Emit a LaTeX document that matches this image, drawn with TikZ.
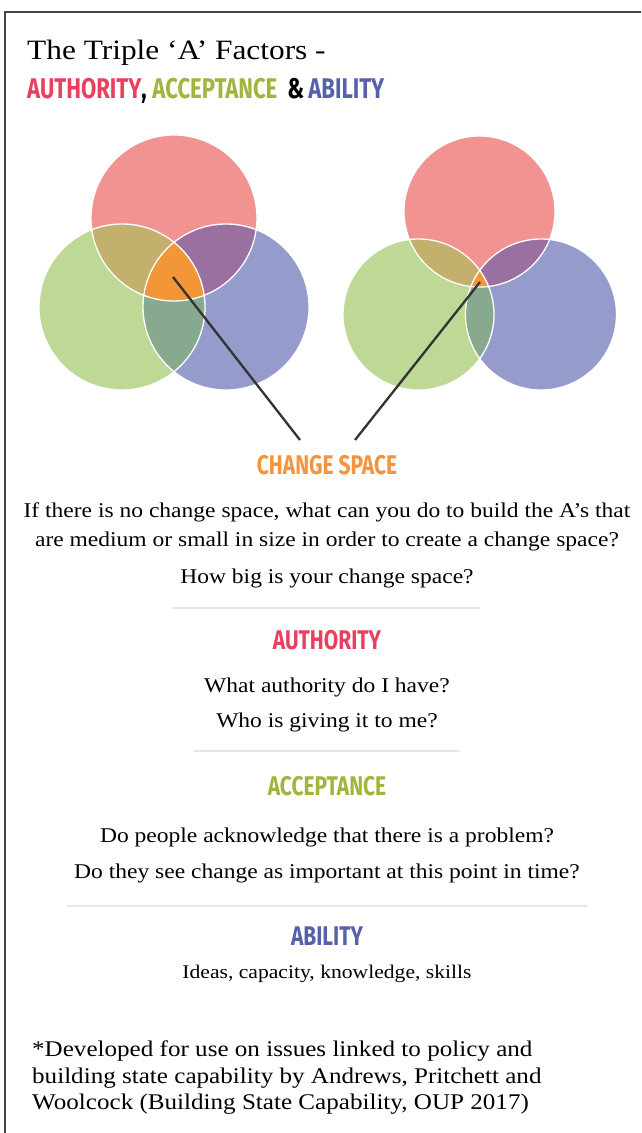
\documentclass[tikz,border=0pt]{standalone}
\usepackage{fontspec}
\setmainfont{Liberation Serif}[FakeStretch=1.12]
\newfontfamily\hfont{Fira Sans}[FakeStretch=0.775]
\definecolor{cred}{HTML}{F19391}
\definecolor{cgreen}{HTML}{BED895}
\definecolor{cblue}{HTML}{959BCB}
\definecolor{crg}{HTML}{C3B06C}
\definecolor{crb}{HTML}{9A70A0}
\definecolor{cgb}{HTML}{87AA8E}
\definecolor{crgb}{HTML}{F39637}
\definecolor{tred}{HTML}{E8405E}
\definecolor{tgreen}{HTML}{A2B43C}
\definecolor{tblue}{HTML}{5661AA}
\definecolor{torange}{HTML}{F7943B}
\definecolor{rulegray}{HTML}{E6E6E6}
\definecolor{framegray}{HTML}{444444}
\newcommand\drawvenn[4]{%
 \fill[cred] (#1) circle (#4);
 \fill[cgreen] (#2) circle (#4);
 \fill[cblue] (#3) circle (#4);
 \begin{scope}\clip (#1) circle (#4); \fill[crg] (#2) circle (#4); \end{scope}
 \begin{scope}\clip (#1) circle (#4); \fill[crb] (#3) circle (#4); \end{scope}
 \begin{scope}\clip (#2) circle (#4); \fill[cgb] (#3) circle (#4); \end{scope}
 \begin{scope}\clip (#1) circle (#4); \clip (#2) circle (#4); \fill[crgb] (#3) circle (#4); \end{scope}
 \draw[vennedge] (#1) circle (#4) (#2) circle (#4) (#3) circle (#4);
}
\begin{document}
\begin{tikzpicture}[x=1pt,y=-1pt,
  vennedge/.style={white, line width=1.3pt},
  body/.style={font=\fontsize{21}{25}\selectfont, anchor=base, inner sep=0pt},
  hd/.style={font=\hfont\bfseries\fontsize{27}{30}\selectfont, anchor=base, inner sep=0pt},
  sep/.style={rulegray, line width=2.5pt},
  pointer/.style={draw=black!80, line width=2.3pt}]
\useasboundingbox (0,0) rectangle (641,1133);
\fill[white] (0,0) rectangle (641,1133);
% frame
\draw[framegray, line width=2pt] (5,1133) -- (5,12) -- (641,12);
% title
\node[anchor=base west, inner sep=0pt, font=\fontsize{28}{32}\selectfont] (title1) at (27,59) {The Triple ‘A’ Factors -};
\node[anchor=base west, inner sep=0pt, font=\hfont\bfseries\fontsize{28.5}{32}\selectfont] (title2) at (27,98)
 {{\color{tred}AUTHORITY},\hspace{0.2em}{\color{tgreen}ACCEPTANCE}\hspace{0.35em}\&\hspace{0.15em}{\color{tblue}ABILITY}};
% venns
\coordinate (LR) at (174,218); \coordinate (LG) at (122,307); \coordinate (LB) at (226,307);
\coordinate (RR) at (479.5,211.5); \coordinate (RG) at (418.5,314.5); \coordinate (RB) at (541,314.5);
\drawvenn{LR}{LG}{LB}{83}
\drawvenn{RR}{RG}{RB}{75.5}
\coordinate (lstart) at (173,277); \coordinate (lend) at (300,440);
\coordinate (rstart) at (480,282); \coordinate (rend) at (355,440);
\draw[pointer] (lstart) -- (lend);
\draw[pointer] (rstart) -- (rend);
% change space
\node[hd, torange] (cs) at (327,474) {CHANGE SPACE};
\node[body] (cs1) at (327,517) {If there is no change space, what can you do to build the A’s that};
\node[body] (cs2) at (327,546) {are medium or small in size in order to create a change space?};
\node[body] (cs3) at (327,583) {How big is your change space?};
\coordinate (s1a) at (172,608); \coordinate (s1b) at (480,608);
\draw[sep] (s1a) -- (s1b);
% authority
\node[hd, tred] (au) at (327,649) {AUTHORITY};
\node[body] (au1) at (327,692) {What authority do I have?};
\node[body] (au2) at (327,727) {Who is giving it to me?};
\coordinate (s2a) at (194,751); \coordinate (s2b) at (460,751);
\draw[sep] (s2a) -- (s2b);
% acceptance
\node[hd, tgreen] (ac) at (327,795) {ACCEPTANCE};
\node[body] (ac1) at (327,842) {Do people acknowledge that there is a problem?};
\node[body] (ac2) at (327,878) {Do they see change as important at this point in time?};
\coordinate (s3a) at (67,906); \coordinate (s3b) at (587,906);
\draw[sep] (s3a) -- (s3b);
% ability
\node[hd, tblue] (ab) at (327,945) {ABILITY};
\node[body, font=\fontsize{19.3}{23}\selectfont] (ab1) at (327,978) {Ideas, capacity, knowledge, skills};
% footnote
\node[anchor=base west, inner sep=0pt, font=\fontsize{22.4}{27}\selectfont] (fn1) at (32,1056) {*Developed for use on issues linked to policy and};
\node[anchor=base west, inner sep=0pt, font=\fontsize{22.4}{27}\selectfont] (fn2) at (32,1083) {building state capability by Andrews, Pritchett and};
\node[anchor=base west, inner sep=0pt, font=\fontsize{22.4}{27}\selectfont] (fn3) at (32,1109) {Woolcock (Building State Capability, OUP 2017)};
\end{tikzpicture}
\end{document}
